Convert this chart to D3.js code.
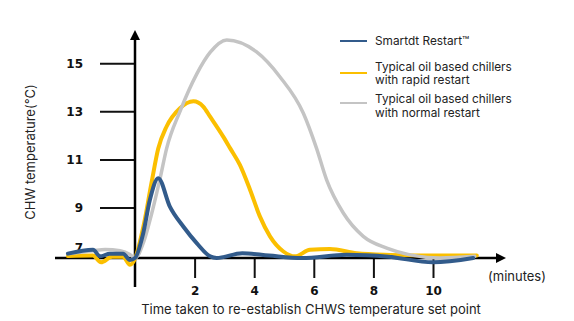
<!DOCTYPE html>
<html>
<head>
<meta charset="utf-8">
<script src="https://cdn.jsdelivr.net/npm/d3@7/dist/d3.min.js"></script>
<style>
  html, body { margin: 0; padding: 0; background: #fff; }
  svg { display: block; }
  .tick-num { font-family: "DejaVu Sans", sans-serif; font-size: 12px; font-weight: bold; fill: #111; }
  .label { font-family: Inter, "Noto Sans", sans-serif; fill: #222; }
</style>
</head>
<body>
<svg id="chart" width="574" height="321"></svg>
<script>
// Chilled water temperature (°C) after a power interruption, by minutes since restart
const smartTime = [-2.25, -1.41, -1.17, -0.84, -0.4, -0.17, 0, 0.28, 0.5, 0.78, 1.17, 1.62, 2.07, 2.52, 2.74, 3.6, 4.5, 5.6, 7.1, 8.5, 10.0, 11.35];
const smartTemp = [7.08, 7.24, 6.97, 7.08, 7.08, 6.82, 6.9, 7.95, 9.32, 10.22, 9.04, 8.21, 7.52, 6.97, 6.9, 7.1, 7.0, 6.9, 7.03, 6.95, 6.72, 6.9];

const rapidTime = [-2.25, -1.41, -1.14, -0.77, -0.4, -0.17, 0, 0.28, 0.55, 0.78, 1.06, 1.51, 1.96, 2.29, 2.52, 2.96, 3.19, 3.52, 3.86, 4.19, 4.53, 4.98, 5.37, 5.87, 6.54, 7.44, 8.56, 10.0, 11.47];
const rapidTemp = [6.98, 7.0, 6.72, 6.95, 6.95, 6.62, 6.87, 8.2, 10.0, 11.45, 12.37, 13.13, 13.42, 13.2, 12.78, 11.95, 11.47, 10.77, 9.74, 8.63, 7.8, 7.17, 6.97, 7.24, 7.27, 7.1, 7.03, 7.0, 7.0];

const normalTime = [-2.25, -1.41, -1.0, -0.5, -0.17, 0, 0.3, 0.55, 0.84, 1.06, 1.51, 2.07, 2.52, 3.08, 4.07, 4.86, 5.65, 6.09, 6.43, 6.99, 7.66, 8.45, 9.23, 10.23, 11.4];
const normalTemp = [7.08, 7.2, 7.25, 7.2, 7.05, 6.9, 7.6, 8.7, 10.2, 11.45, 13.0, 14.55, 15.45, 15.97, 15.48, 14.44, 12.92, 11.47, 10.15, 8.77, 7.8, 7.31, 7.03, 6.9, 6.97];

const yTicks = [9, 11, 13, 15];
const xTicks = [2, 4, 6, 8, 10];
const legendNames = [["Smartdt Restart\u2122"], ["Typical oil based chillers", "with rapid restart"], ["Typical oil based chillers", "with normal restart"]];
const seriesColors = ["#325b8b", "#fbbf00", "#c4c4c4"];

const svg = d3.select("#chart");

const x = d3.scaleLinear().domain([0, 12]).range([135, 492.6]);
const y = d3.scaleLinear().domain([6.9, 16.3]).range([258, 32]);

const line = d3.line()
  .x(d => x(d[0]))
  .y(d => y(d[1]))
  .curve(d3.curveMonotoneX);

const zip = (t, v) => t.map((ti, i) => [ti, v[i]]);
const series = [
  { data: zip(rapidTime, rapidTemp), color: seriesColors[1], width: 4 },
  { data: zip(normalTime, normalTemp), color: seriesColors[2], width: 3.5 },
  { data: zip(smartTime, smartTemp), color: seriesColors[0], width: 4 }
];

// Axes: ticks via d3 axis generators, domain lines drawn separately with arrowheads
const yAxis = svg.append("g")
  .attr("transform", `translate(${x(0)},0)`)
  .call(d3.axisLeft(y).tickValues(yTicks).tickSize(35).tickPadding(17));
yAxis.select(".domain").remove();
yAxis.selectAll(".tick line").attr("stroke", "#111").attr("stroke-width", 2);
yAxis.selectAll(".tick text").attr("class", "tick-num").attr("font-size", null).attr("font-family", null);

const xAxis = svg.append("g")
  .attr("transform", `translate(0,${y(6.9)})`)
  .call(d3.axisBottom(x).tickValues(xTicks).tickSize(20).tickPadding(8));
xAxis.select(".domain").remove();
xAxis.selectAll(".tick line").attr("stroke", "#111").attr("stroke-width", 2);
xAxis.selectAll(".tick text").attr("class", "tick-num").attr("font-size", null).attr("font-family", null);

// "7" label sits just above the horizontal axis
svg.append("text")
  .attr("class", "tick-num")
  .attr("x", x(0) - 52)
  .attr("y", y(6.9) - 10)
  .attr("dy", "0.32em")
  .attr("text-anchor", "end")
  .text("7");

// Axis lines with arrowheads
svg.append("line")
  .attr("x1", x(0)).attr("x2", x(0))
  .attr("y1", 287).attr("y2", 38)
  .attr("stroke", "#000").attr("stroke-width", 2.5);
svg.append("path")
  .attr("d", `M${x(0)},30 L${x(0) - 5},40 L${x(0) + 5},40 Z`)
  .attr("fill", "#000");

svg.append("line")
  .attr("x1", 55).attr("x2", 498)
  .attr("y1", y(6.9)).attr("y2", y(6.9))
  .attr("stroke", "#000").attr("stroke-width", 2.5);
svg.append("path")
  .attr("d", `M506,${y(6.9)} L496,${y(6.9) - 5} L496,${y(6.9) + 5} Z`)
  .attr("fill", "#000");

// Curves
svg.append("g").selectAll("path")
  .data(series)
  .join("path")
  .attr("d", d => line(d.data))
  .attr("fill", "none")
  .attr("stroke", d => d.color)
  .attr("stroke-width", d => d.width)
  .attr("stroke-linecap", "round")
  .attr("stroke-linejoin", "round");

// Axis titles
svg.append("text")
  .attr("class", "label")
  .attr("x", 488).attr("y", 276)
  .attr("dy", "0.35em")
  .attr("font-size", 13)
  .text("(minutes)");

svg.append("text")
  .attr("class", "label")
  .attr("x", 311).attr("y", 309)
  .attr("dy", "0.35em")
  .attr("text-anchor", "middle")
  .attr("font-size", 13)
  .text("Time taken to re-establish CHWS temperature set point");

svg.append("text")
  .attr("class", "label")
  .attr("transform", "translate(30,152) rotate(-90)")
  .attr("dy", "0.35em")
  .attr("text-anchor", "middle")
  .attr("font-size", 13)
  .text("CHW temperature(\u00B0C)");

// Legend
const legendY = [41, 73, 103];
const legendTextY = [[41], [66.7, 80], [99.3, 112.7]];
const legend = svg.append("g");
legendNames.forEach((lines, i) => {
  legend.append("line")
    .attr("x1", 340).attr("x2", 367)
    .attr("y1", legendY[i]).attr("y2", legendY[i])
    .attr("stroke", seriesColors[i]).attr("stroke-width", 2);
  lines.forEach((t, j) => {
    legend.append("text")
      .attr("class", "label")
      .attr("x", 375).attr("y", legendTextY[i][j])
      .attr("dy", "0.35em")
      .attr("font-size", 11.8)
      .text(t);
  });
});
</script>
</body>
</html>
